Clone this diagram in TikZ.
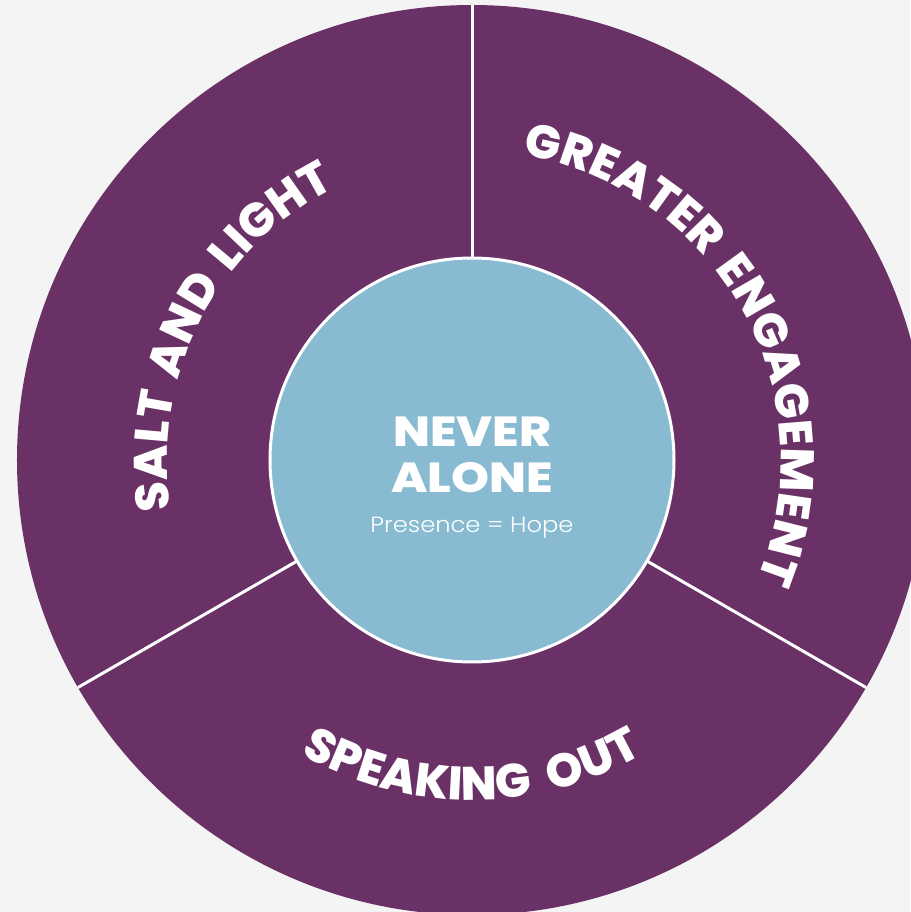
\documentclass[tikz,border=0pt]{standalone}
\usepackage{fontspec}
\setmainfont{Poppins}
\newfontfamily\heavy{Poppins ExtraBold}
\newfontfamily\heavywide{Poppins ExtraBold}[FakeStretch=1.15]
\newfontfamily\lightf{Poppins Light}[FakeStretch=1.1]
\usetikzlibrary{decorations.text}
\definecolor{bg}{HTML}{F4F4F4}
\definecolor{plum}{HTML}{6A3166}
\definecolor{sky}{HTML}{88BAD1}
\tikzset{
  divider/.style={draw=white, line width=3pt},
  ringtext/.style={decorate, decoration={text along path, text align=center, text color=white, text={|\heavy\fontsize{47}{47}\selectfont|#1}}},
}
\begin{document}
\begin{tikzpicture}[x=1pt,y=1pt]
\fill[bg] (-472,460) rectangle (438,-452);
\useasboundingbox (-472,460) rectangle (438,-452);
\fill[plum] (0,0) circle (455);
\foreach \a in {90,210,330} \draw[divider] (\a:150) -- (\a:455);
\node[circle, fill=sky, draw=white, line width=3pt, minimum size=404pt, inner sep=0pt] (hub) at (0,0) {};
\node[anchor=base, text=white, font=\heavywide\fontsize{42}{46}\selectfont] (never) at (0,13) {NEVER};
\node[anchor=base, text=white, font=\heavywide\fontsize{42}{46}\selectfont] (alone) at (0,-33) {ALONE};
\node[anchor=base, text=white, font=\lightf\fontsize{22}{24}\selectfont] (hope) at (0,-73) {Presence = Hope};
\path[ringtext={SALT {\kern5pt}AND {\kern5pt}LIGHT}] (213:305) arc[start angle=213, end angle=93, radius=305];
\path[ringtext={GREATER {\kern6pt}ENGAGEMENT}] (99:309) arc[start angle=99, end angle=-41, radius=309];
\path[ringtext={SPEAKING {\kern10pt}OUT}] (210:340) arc[start angle=210, end angle=330, radius=340];
\end{tikzpicture}
\end{document}
